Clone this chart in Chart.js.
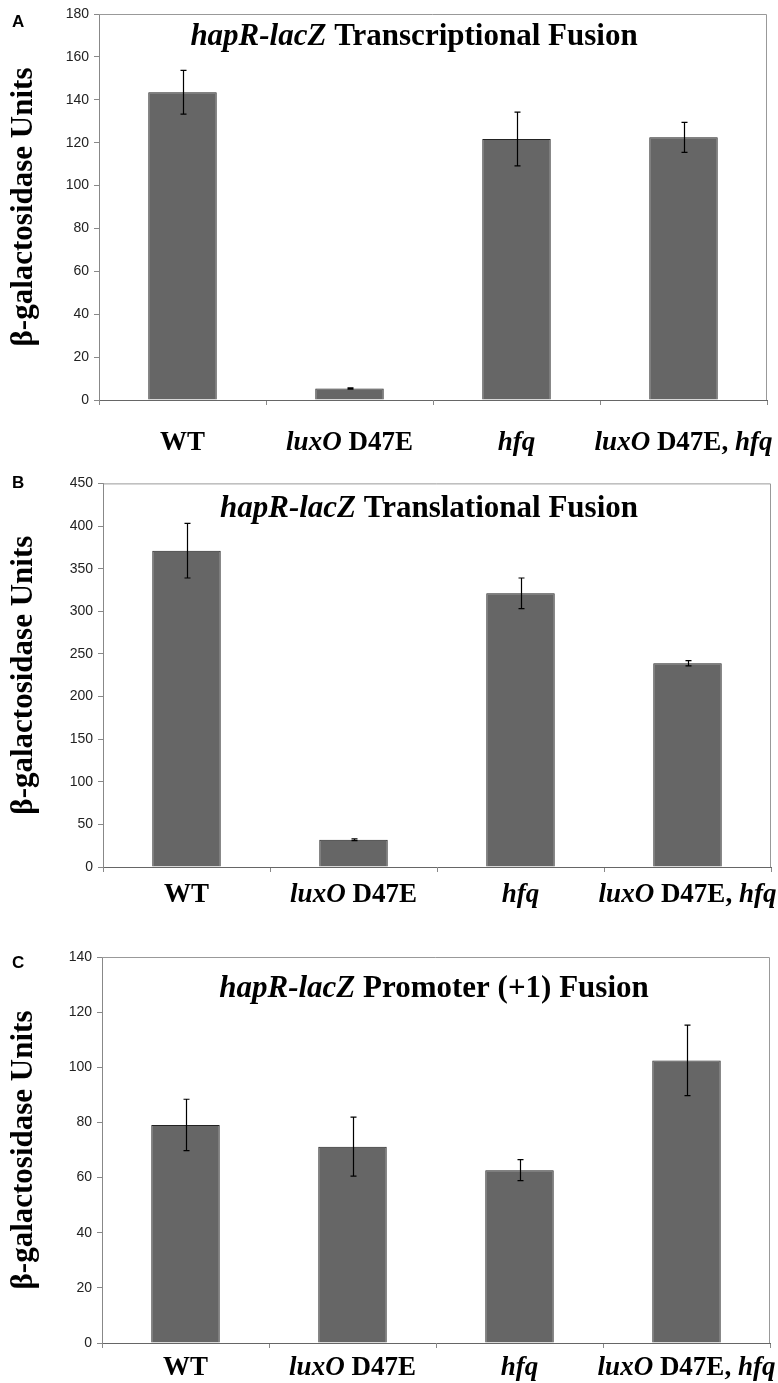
<!DOCTYPE html>
<html>
<head>
<meta charset="utf-8">
<script src="https://cdn.jsdelivr.net/npm/chart.js@4.4.1/dist/chart.umd.min.js"></script>
<style>
  body { margin: 0; background: #fff; width: 778px; height: 1383px; overflow: hidden; }
  .panel { position: absolute; left: 0; }
</style>
</head>
<body>
<div class="panel" style="top:0"><canvas id="chartA" width="778" height="470"></canvas></div>
<div class="panel" style="top:470px"><canvas id="chartB" width="778" height="470"></canvas></div>
<div class="panel" style="top:940px"><canvas id="chartC" width="778" height="443"></canvas></div>
<script>
// categories and values
const categories = ['WT', 'luxO D47E', 'hfq', 'luxO D47E, hfq'];
const italicWords = ['hapR-lacZ', 'luxO', 'hfq'];

const transcriptional = [143.5, 5.4, 121.7, 122.5];
const transcriptionalErr = [10.2, 0.3, 12.5, 7.0];

const translational = [371, 32, 321, 239];
const translationalErr = [32, 1, 18, 3];

const promoter = [79.1, 71.2, 62.7, 102.5];
const promoterErr = [9.3, 10.7, 3.8, 12.8];

const yMax = [180, 450, 140];
const yStep = [20, 50, 20];
const titles = [
  'hapR-lacZ Transcriptional Fusion',
  'hapR-lacZ Translational Fusion',
  'hapR-lacZ Promoter (+1) Fusion'
];
const letters = ['A', 'B', 'C'];

const serif = '"Liberation Serif", "Times New Roman", serif';
const sans = '"Liberation Sans", Arial, sans-serif';

// draws text with the gene names in italics, centred on cx
function drawRich(ctx, text, cx, y, size) {
  const segs = text.split(/(hapR-lacZ|luxO|hfq)/).filter(s => s).map(s => ({ s, it: italicWords.includes(s) }));
  const fontOf = it => (it ? 'italic ' : '') + 'bold ' + size + 'px ' + serif;
  let w = 0;
  segs.forEach(g => { ctx.font = fontOf(g.it); g.w = ctx.measureText(g.s).width; w += g.w; });
  let x = cx - w / 2;
  ctx.textAlign = 'left';
  ctx.textBaseline = 'alphabetic';
  ctx.fillStyle = '#000';
  segs.forEach(g => { ctx.font = fontOf(g.it); ctx.fillText(g.s, x, y); x += g.w; });
}

const panelDeco = {
  id: 'panelDeco',
  afterDraw(chart, args, opts) {
    const ctx = chart.ctx;
    const { left, right, top, bottom } = chart.chartArea;
    const x = chart.scales.x, y = chart.scales.y;
    ctx.save();
    // frame top + right
    ctx.strokeStyle = '#999';
    ctx.lineWidth = 1;
    ctx.beginPath();
    ctx.moveTo(left, top + 0.5);
    ctx.lineTo(right - 0.5, top + 0.5);
    ctx.lineTo(right - 0.5, bottom);
    ctx.stroke();
    // error bars
    ctx.strokeStyle = '#000';
    ctx.lineWidth = 1.2;
    const vals = chart.data.datasets[0].data;
    opts.err.forEach((e, i) => {
      const px = Math.round(x.getPixelForValue(i)) + 0.5;
      const hi = y.getPixelForValue(vals[i] + e);
      const lo = y.getPixelForValue(vals[i] - e);
      ctx.beginPath();
      ctx.moveTo(px, hi); ctx.lineTo(px, lo);
      ctx.moveTo(px - 3, hi); ctx.lineTo(px + 3, hi);
      ctx.moveTo(px - 3, lo); ctx.lineTo(px + 3, lo);
      ctx.stroke();
    });
    // category labels
    categories.forEach((c, i) => {
      drawRich(ctx, c, x.getPixelForValue(i), bottom + opts.labelGap, 27);
    });
    // title
    drawRich(ctx, opts.title, (left + right) / 2 + opts.titleDx, top + opts.titleY, 31);
    // panel letter
    ctx.font = 'bold 17px ' + sans;
    ctx.fillStyle = '#000';
    ctx.textAlign = 'left';
    ctx.fillText(opts.letter, opts.letterX, opts.letterY);
    ctx.restore();
  }
};

function makeChart(id, idx, values, err, area, extra) {
  const H = document.getElementById(id).height;
  return new Chart(document.getElementById(id), {
    type: 'bar',
    data: {
      labels: categories,
      datasets: [{
        data: values,
        backgroundColor: '#666666',
        borderColor: '#222',
        borderWidth: 1,
        categoryPercentage: 1,
        barPercentage: 0.41
      }]
    },
    options: {
      responsive: false,
      animation: false,
      layout: { padding: { left: 0, top: area.top, right: 778 - area.right, bottom: 0 } },
      plugins: {
        legend: { display: false },
        tooltip: { enabled: false },
        panelDeco: Object.assign({ err, title: titles[idx], letter: letters[idx] }, extra)
      },
      scales: {
        x: {
          grid: { offset: true, drawOnChartArea: false, drawTicks: true, tickLength: 5, color: '#888' },
          border: { color: '#666', width: 1 },
          ticks: { display: false },
          afterFit: s => { s.height = H - area.bottom; }
        },
        y: {
          min: 0,
          max: yMax[idx],
          ticks: {
            stepSize: yStep[idx],
            color: '#222',
            padding: 5,
            font: { family: sans, size: 14 }
          },
          grid: { drawOnChartArea: false, tickLength: 5, color: '#888' },
          border: { color: '#888', width: 1 },
          title: {
            display: true,
            text: 'β-galactosidase Units',
            color: '#000',
            font: { family: serif, size: 31, weight: 'bold' },
            padding: { top: 5, bottom: 0 }
          },
          afterFit: s => { s.width = area.left; }
        }
      }
    },
    plugins: [panelDeco]
  });
}

makeChart('chartA', 0, transcriptional, transcriptionalErr,
  { left: 99, right: 767, top: 14, bottom: 400 },
  { labelGap: 50, titleY: 31, titleDx: -19, letterX: 12, letterY: 27 });

makeChart('chartB', 1, translational, translationalErr,
  { left: 103, right: 771, top: 13, bottom: 397 },
  { labelGap: 35, titleY: 34, titleDx: -8, letterX: 12, letterY: 18 });

makeChart('chartC', 2, promoter, promoterErr,
  { left: 102, right: 770, top: 17, bottom: 403 },
  { labelGap: 32, titleY: 40, titleDx: -2, letterX: 12, letterY: 28 });
</script>
</body>
</html>
